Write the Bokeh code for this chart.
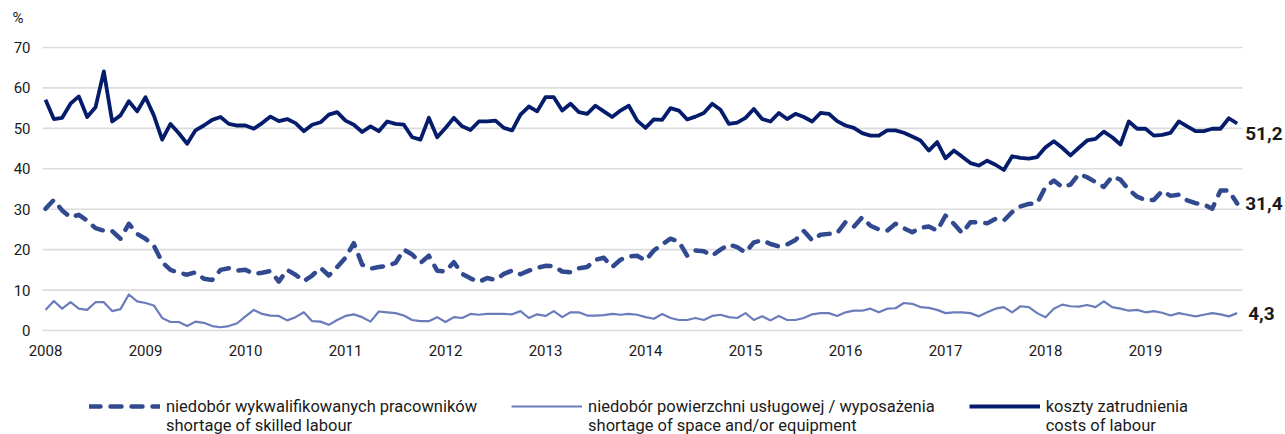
from bokeh.plotting import figure
from bokeh.models import Range1d, FixedTicker, Legend, LegendItem, ColumnDataSource, Label
from bokeh.core.properties import value
from bokeh.embed import file_html
from bokeh.resources import INLINE

# Monthly survey shares, %, Jan 2008 - Dec 2019
years = ["2008", "2009", "2010", "2011", "2012", "2013",
         "2014", "2015", "2016", "2017", "2018", "2019"]
y_ticks = [0, 10, 20, 30, 40, 50, 60, 70]

skilled_labour = [
    30.1, 32.3, 29.7, 28.0, 28.6, 27.2, 25.3, 24.7, 24.6, 22.7, 26.4, 23.9,
    22.7, 21.0, 16.9, 15.0, 14.3, 13.8, 14.4, 12.8, 12.5, 15.0, 15.4, 14.8,
    15.0, 14.0, 14.3, 14.7, 12.1, 15.0, 13.8, 12.2, 13.6, 15.5, 13.6, 15.7,
    18.0, 21.6, 16.3, 15.3, 15.7, 16.0, 16.7, 20.0, 18.8, 16.7, 18.5, 14.8,
    14.6, 16.9, 14.0, 12.9, 12.0, 13.0, 12.5, 14.0, 14.8, 13.9, 14.8, 15.5,
    16.0, 15.9, 14.6, 14.4, 15.4, 15.7, 17.5, 18.0, 15.7, 17.5, 18.3, 18.5,
    17.3, 19.8, 21.3, 22.7, 22.0, 18.5, 19.8, 19.6, 18.5, 20.0, 21.3, 20.6,
    19.3, 21.8, 22.3, 21.4, 20.8, 21.3, 22.4, 24.6, 22.3, 23.7, 23.9, 24.1,
    26.8, 25.7, 28.0, 25.9, 25.0, 24.7, 26.4, 25.3, 24.3, 25.4, 25.7, 24.7,
    28.4, 26.4, 24.1, 26.8, 26.8, 26.5, 27.6, 27.2, 29.3, 30.7, 31.3, 31.5,
    35.5, 37.1, 35.5, 36.1, 38.7, 37.9, 36.7, 35.5, 38.1, 37.3, 34.8, 33.1,
    32.3, 32.3, 34.5, 33.3, 33.6, 32.2, 31.5, 31.2, 30.1, 34.6, 34.6, 31.4,
]

space_equipment = [
    5.1, 7.3, 5.4, 7.0, 5.4, 5.1, 7.0, 7.0, 4.8, 5.3, 8.9, 7.2,
    6.8, 6.2, 3.1, 2.1, 2.1, 1.1, 2.2, 1.9, 1.1, 0.8, 1.1, 1.8,
    3.5, 5.1, 4.1, 3.7, 3.6, 2.5, 3.3, 4.5, 2.3, 2.2, 1.4, 2.6,
    3.6, 4.0, 3.3, 2.2, 4.7, 4.5, 4.3, 3.7, 2.6, 2.3, 2.3, 3.3,
    2.1, 3.3, 3.1, 4.1, 3.9, 4.1, 4.1, 4.1, 4.0, 4.8, 3.1, 4.0,
    3.6, 4.8, 3.3, 4.5, 4.5, 3.7, 3.7, 3.8, 4.1, 3.9, 4.1, 3.9,
    3.3, 2.9, 4.1, 3.1, 2.6, 2.6, 3.1, 2.6, 3.6, 3.9, 3.3, 3.1,
    4.3, 2.6, 3.5, 2.5, 3.6, 2.6, 2.6, 3.1, 4.0, 4.3, 4.3, 3.6,
    4.5, 4.9, 4.9, 5.4, 4.5, 5.4, 5.5, 6.8, 6.6, 5.8, 5.6, 5.1,
    4.3, 4.5, 4.5, 4.3, 3.5, 4.5, 5.4, 5.8, 4.5, 6.0, 5.8, 4.3,
    3.3, 5.4, 6.4, 6.0, 5.9, 6.3, 5.8, 7.2, 5.8, 5.4, 4.9, 5.1,
    4.5, 4.8, 4.4, 3.7, 4.3, 3.9, 3.5, 3.9, 4.3, 4.0, 3.5, 4.3,
]

labour_costs = [
    57.1, 52.3, 52.6, 56.1, 57.9, 52.8, 55.2, 64.1, 51.7, 53.2, 56.7, 54.2,
    57.7, 53.2, 47.2, 51.1, 48.8, 46.2, 49.5, 50.7, 52.1, 52.8, 51.1, 50.7,
    50.7, 49.9, 51.3, 52.9, 51.8, 52.3, 51.3, 49.3, 50.9, 51.5, 53.4, 54.0,
    51.9, 50.9, 49.1, 50.5, 49.3, 51.7, 51.1, 50.9, 47.8, 47.2, 52.6, 47.8,
    50.1, 52.6, 50.5, 49.6, 51.7, 51.7, 51.9, 50.1, 49.5, 53.4, 55.4, 54.2,
    57.7, 57.7, 54.4, 56.1, 54.0, 53.6, 55.6, 54.2, 52.8, 54.4, 55.6, 51.9,
    50.1, 52.2, 52.1, 55.0, 54.4, 52.2, 52.9, 53.8, 56.1, 54.6, 51.1, 51.4,
    52.6, 54.8, 52.3, 51.7, 53.8, 52.3, 53.6, 52.8, 51.7, 53.8, 53.6, 51.8,
    50.7, 50.1, 48.8, 48.2, 48.2, 49.5, 49.5, 48.9, 48.0, 47.0, 44.5, 46.6,
    42.6, 44.5, 43.0, 41.4, 40.8, 42.0, 41.0, 39.7, 43.1, 42.7, 42.5, 42.9,
    45.3, 46.8, 45.2, 43.3, 45.2, 47.0, 47.4, 49.2, 47.8, 46.0, 51.7, 49.9,
    49.9, 48.2, 48.4, 48.9, 51.7, 50.5, 49.3, 49.3, 49.9, 49.9, 52.5, 51.2,
]

series_labels = [
    ["niedobór wykwalifikowanych pracowników", "shortage of skilled labour"],
    ["niedobór powierzchni usługowej / wyposażenia", "shortage of space and/or equipment"],
    ["koszty zatrudnienia", "costs of labour"],
]

FONT = "Roboto"
TEXT = "#1a1a1a"
C_SKILLED = "#31498f"
C_SPACE = "#6a7cb9"
C_LABOUR = "#041c6b"
C_GRID = "#dcdcdc"

W, H = 1285, 434
months = list(range(len(labour_costs)))
X_AXIS = -0.36                  # left end of the gridlines / y-axis position
X_GRID_END = 143.64             # right end of the gridlines
X_START, X_END = -5.4, 148.8    # margins for tick labels and end-value labels
Y_START, Y_END = -25.72, 81.62  # room for the unit caption, years and legend

# the frame fills the whole canvas; axes sit inside it at fixed positions
p = figure(width=W, height=H, output_backend="svg", toolbar_location=None,
           title=None,
           x_range=Range1d(X_START, X_END), y_range=Range1d(Y_START, Y_END),
           min_border_left=0, min_border_right=0, min_border_top=0,
           min_border_bottom=0)
p.outline_line_color = None
p.background_fill_color = "white"
p.border_fill_color = "white"
p.grid.visible = False

p.xaxis.fixed_location = 0
p.yaxis.fixed_location = X_AXIS
p.xaxis.ticker = FixedTicker(ticks=[12 * k for k in range(len(years))])
p.xaxis.major_label_overrides = {12 * k: y for k, y in enumerate(years)}
p.yaxis.ticker = FixedTicker(ticks=y_ticks)
for ax in (p.xaxis, p.yaxis):
    ax.axis_line_color = None
    ax.major_tick_line_color = None
    ax.minor_tick_line_color = None
    ax.major_tick_out = 0
    ax.major_tick_in = 0
    ax.major_label_text_font = FONT
    ax.major_label_text_font_size = "15px"
    ax.major_label_text_color = TEXT
p.xaxis.major_label_standoff = 14
p.yaxis.major_label_standoff = 12

# "%" unit caption at the top-left
p.add_layout(Label(x=12, y=H - 17.5, x_units="screen", y_units="screen", text="%",
                   text_font=FONT, text_font_size="15px", text_color=TEXT,
                   text_baseline="middle", text_align="left"))

# horizontal gridlines, stopping before the value labels
p.segment(x0=[X_AXIS] * len(y_ticks), x1=[X_GRID_END] * len(y_ticks),
          y0=y_ticks, y1=y_ticks, line_color=C_GRID, line_width=1.6)

src = ColumnDataSource(dict(x=months, skilled=skilled_labour,
                            space=space_equipment, labour=labour_costs))

r_skilled = p.line("x", "skilled", source=src, line_color=C_SKILLED, line_width=4.5,
                   line_dash="11 10", line_cap="round", line_join="round")
r_space = p.line("x", "space", source=src, line_color=C_SPACE, line_width=2.2,
                 line_join="round")
r_labour = p.line("x", "labour", source=src, line_color=C_LABOUR, line_width=3.8,
                  line_join="round")

# latest values at the right end
last = len(months) - 1
end_vals = [labour_costs[last], skilled_labour[last], space_equipment[last]]
end_src = ColumnDataSource(dict(
    x=[last] * 3,
    y=end_vals,
    txt=[f"{v:.1f}".replace(".", ",") for v in end_vals],
    dy=[10, 0, 0],
    dx=[8, 8, 11],
))
p.text("x", "y", text="txt", source=end_src, x_offset="dx", y_offset="dy",
       text_font=value(FONT), text_font_size="19px", text_font_style="bold",
       text_color=TEXT, text_baseline="middle", text_align="left")

# two-line legend labels; a leading empty line keeps the sample line level
# with the first (Polish) line of each label
legend = Legend(items=[
    LegendItem(label="\n" + "\n".join(lbl), renderers=[r])
    for lbl, r in zip(series_labels, [r_skilled, r_space, r_labour])
], orientation="horizontal", location=(89, -0.7), glyph_width=71,
    label_standoff=6, spacing=34, padding=0, margin=0,
    border_line_color=None, background_fill_alpha=0,
    label_text_font=FONT, label_text_font_size="16.5px", label_text_color=TEXT)
p.add_layout(legend)

open("out.html", "w").write(file_html(p, INLINE))
